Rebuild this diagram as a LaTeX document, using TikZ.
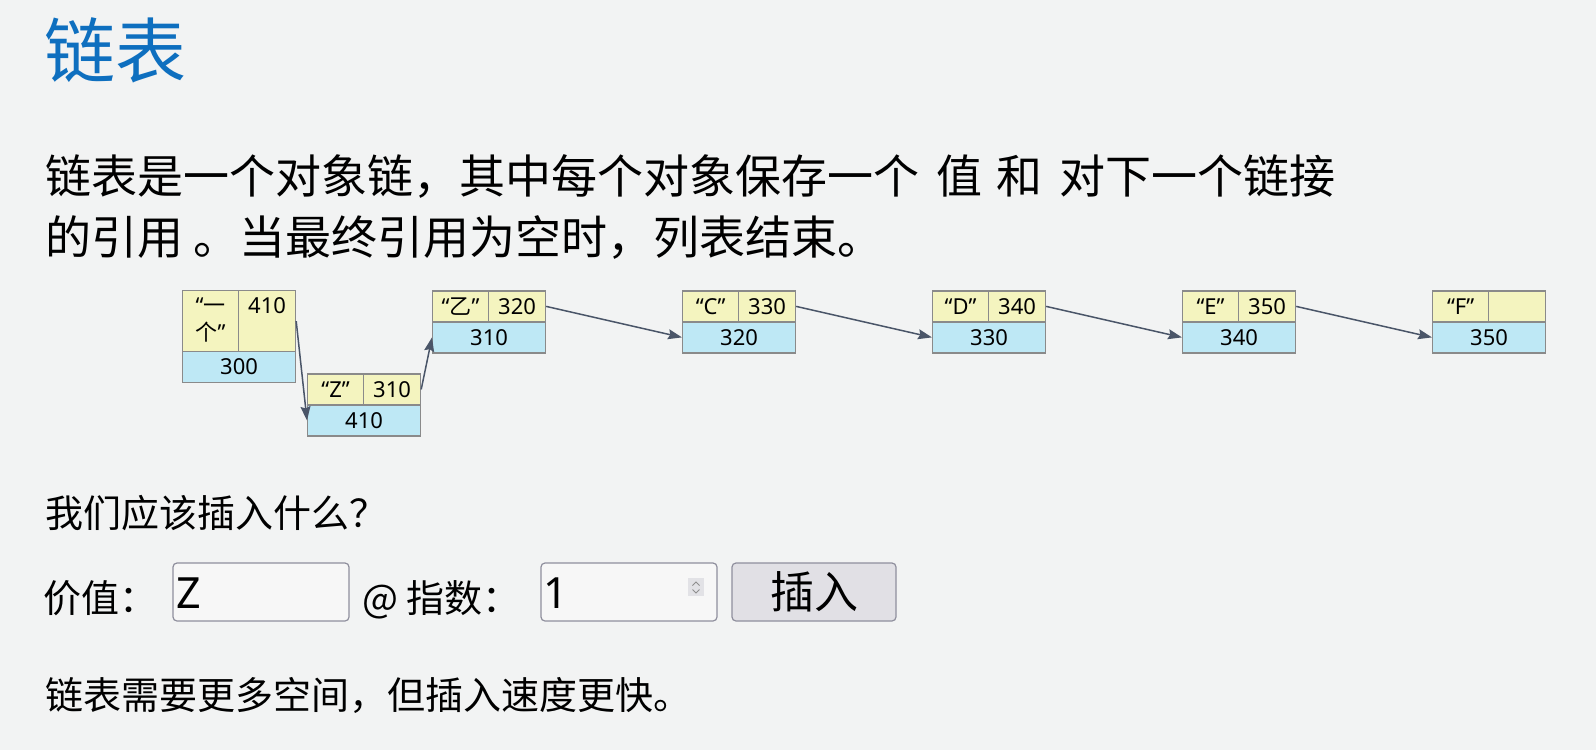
\documentclass[tikz,border=0pt]{standalone}
\usepackage{fontspec}
\setmainfont{Noto Sans CJK SC}
\newfontfamily\cjk{Noto Sans CJK SC}
\newfontfamily\latin{Noto Sans}
\usetikzlibrary{arrows.meta}

\definecolor{pagebg}{HTML}{F2F3F3}
\definecolor{titleblue}{HTML}{0E6FBF}
\definecolor{valfill}{HTML}{F4F4BF}
\definecolor{addrfill}{HTML}{BEE8F5}
\definecolor{cellline}{HTML}{8A8A8A}
\definecolor{linkcol}{HTML}{4A5568}
\definecolor{fieldline}{HTML}{8F8F9D}
\definecolor{fieldfill}{HTML}{F7F7F7}
\definecolor{btnfill}{HTML}{E1E0E5}
\definecolor{spinfill}{HTML}{E2E2E6}
\definecolor{spinmark}{HTML}{8E8E8E}

\tikzset{
  cell/.style={draw=cellline, line width=1.2pt, inner sep=0pt, anchor=north west,
               text=black, font=\latin\fontsize{22}{27}\selectfont},
  valcell/.style={cell, fill=valfill, minimum width=56pt, minimum height=31pt},
  ptrcell/.style={cell, fill=valfill, minimum width=57pt, minimum height=31pt},
  addrcell/.style={cell, fill=addrfill, minimum width=113pt, minimum height=31pt},
  link/.style={draw=linkcol, line width=1.5pt, -{Stealth[length=14pt,width=10pt,inset=2pt]}},
  prose/.style={anchor=base west, inner sep=0pt, text=black},
  field/.style={draw=fieldline, fill=fieldfill, line width=1.2pt, rounded corners=4pt,
                minimum width=176pt, minimum height=58pt, inner sep=0pt},
}

\begin{document}
\begin{tikzpicture}[x=1pt,y=-1pt]
  \fill[pagebg] (0,0) rectangle (1596,750);
  \useasboundingbox (0,0) rectangle (1596,750);

  % heading and explanation
  \node[prose, text=titleblue, font=\fontsize{71}{80}\selectfont] (title) at (44,77) {链表};
  \node[prose, font=\fontsize{46}{61}\selectfont] (para1) at (45,193)
    {链表是一个对象链，其中每个对象保存一个\hspace{17pt}值\hspace{14pt}和\hspace{17pt}对下一个链接};
  \node[prose, font=\fontsize{46}{61}\selectfont] (para2) at (45,254)
    {的引用 。当最终引用为空时，列表结束。};

  % linked list: value | next on top, own address below
  \node[valcell, minimum height=61pt, align=center] (n1v) at (182,290)
    {\strut“{\cjk 一}\\\strut{\cjk 个}”};
  \node[ptrcell, minimum height=61pt, align=center] (n1p) at (238,290) {\strut 410\\\strut};
  \node[addrcell] (n1a) at (182,351) {300};

  \node[valcell] (n2v) at (307,373.3) {“Z”};
  \node[ptrcell] (n2p) at (363,373.3) {310};
  \node[addrcell] (n2a) at (307,404.3) {410};

  \node[valcell] (n3v) at (432,290.3) {“{\cjk 乙}”};
  \node[ptrcell] (n3p) at (488,290.3) {320};
  \node[addrcell] (n3a) at (432,321.3) {310};

  \node[valcell] (n4v) at (682,290.3) {“C”};
  \node[ptrcell] (n4p) at (738,290.3) {330};
  \node[addrcell] (n4a) at (682,321.3) {320};

  \node[valcell] (n5v) at (932,290.3) {“D”};
  \node[ptrcell] (n5p) at (988,290.3) {340};
  \node[addrcell] (n5a) at (932,321.3) {330};

  \node[valcell] (n6v) at (1182,290.3) {“E”};
  \node[ptrcell] (n6p) at (1238,290.3) {350};
  \node[addrcell] (n6a) at (1182,321.3) {340};

  \node[valcell] (n7v) at (1432,290.3) {“F”};
  \node[ptrcell] (n7p) at (1488,290.3) {};
  \node[addrcell] (n7a) at (1432,321.3) {350};

  \draw[link] (n1p.east) -- (n2a.west);
  \draw[link] (n2p.east) -- (n3a.west);
  \draw[link] (n3p.east) -- (n4a.west);
  \draw[link] (n4p.east) -- (n5a.west);
  \draw[link] (n5p.east) -- (n6a.west);
  \draw[link] (n6p.east) -- (n7a.west);

  % insertion form
  \node[prose, font=\fontsize{38}{46}\selectfont] (question) at (45,527.5) {我们应该插入什么？};
  \node[prose, font=\fontsize{38}{46}\selectfont] (valuelabel) at (43,612.5) {价值：};
  \node[field] (valuebox) at (261,592) {};
  \node[prose, font=\latin\fontsize{43}{48}\selectfont] (valuetext) at (176,608) {Z};
  \node[prose, font=\fontsize{38}{46}\selectfont] (indexlabel) at (362,612.5) {@ 指数：};
  \node[field] (indexbox) at (629,592) {};
  \node[prose, font=\latin\fontsize{43}{48}\selectfont] (indextext) at (543,608) {1};
  \node[fill=spinfill, minimum width=16pt, minimum height=18pt, inner sep=0pt] (spinner) at (696,587) {};
  \draw[spinmark, line width=1pt] (692.5,585.5) -- (696,582) -- (699.5,585.5);
  \draw[spinmark, line width=1pt] (692.5,589.5) -- (696,593) -- (699.5,589.5);
  \node[draw=fieldline, fill=btnfill, line width=1.2pt, rounded corners=4pt,
        minimum width=164pt, minimum height=58pt, inner sep=0pt,
        font=\fontsize{44}{50}\selectfont] (insertbtn) at (814,592) {插入};

  \node[prose, font=\fontsize{38}{46}\selectfont] (note) at (45,709.5) {链表需要更多空间，但插入速度更快。};
\end{tikzpicture}
\end{document}
